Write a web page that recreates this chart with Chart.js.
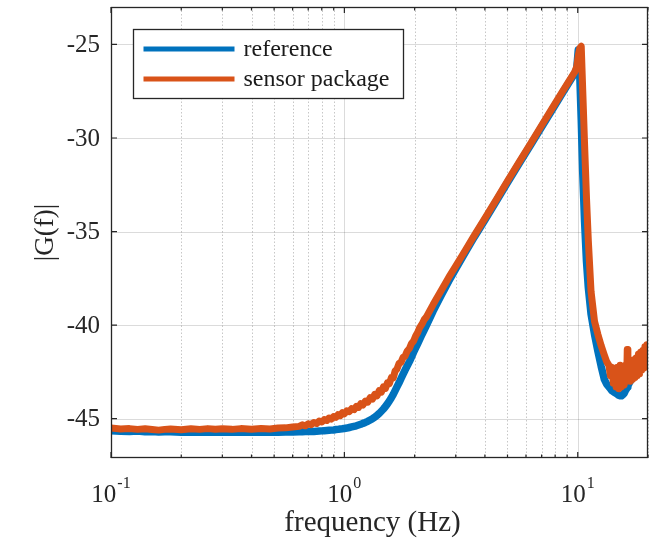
<!DOCTYPE html>
<html>
<head>
<meta charset="utf-8">
<style>
  html, body { margin: 0; padding: 0; background: #ffffff; }
  canvas { display: block; }
</style>
<script src="https://cdn.jsdelivr.net/npm/chart.js@4.4.1/dist/chart.umd.min.js"></script>
</head>
<body>
<canvas id="c" width="657" height="538"></canvas>
<script>
// ---- data ----
const freq = [
  0.10,0.11,0.12,0.13,0.14,0.15,0.16,0.17,0.18,0.20,
  0.22,0.24,0.26,0.28,0.30,0.33,0.36,0.40,0.44,0.48,
  0.52,0.56,0.60,
  0.64,0.66,0.68,0.70,0.72,0.74,0.76,0.78,0.80,0.82,
  0.84,0.86,0.88,0.90,0.92,0.94,0.96,0.98,1.00,1.025,
  1.05,1.075,1.10,1.125,1.15,1.175,1.20,1.23,1.26,1.29,
  1.32,1.35,1.38,1.41,1.44,1.47,1.50,1.53,1.56,1.59,
  1.62,1.65,1.68,1.715,1.75,1.785,1.82,1.86,1.90,1.94,
  1.98,2.02,2.06,2.10,2.15,2.20,2.25,
  2.40,2.60,2.80,3.00,3.30,3.60,4.00,4.50,
  5.00,5.60,6.30,7.00,7.80,8.60,9.30,9.70,9.90,10.05,
  10.20,10.35,10.50,10.70,10.90,11.10,11.40,11.80,12.20,12.60,
  13.00,13.30,13.60,13.80,14.00,14.20,14.40,14.60,14.80,15.00,
  15.20,15.40,15.60,15.80,16.00,16.20,16.30,16.40,16.60,16.80,
  17.00,17.20,17.40,17.60,17.80,18.00,18.20,18.40,18.60,18.80,
  19.00,19.20,19.40,19.60,19.80,20.00
];
const reference = [
  -45.64,-45.67,-45.68,-45.66,-45.70,-45.69,-45.71,-45.70,-45.70,-45.72,
  -45.71,-45.72,-45.71,-45.72,-45.71,-45.73,-45.72,-45.73,-45.72,-45.72,
  -45.72,-45.71,-45.71,
  -45.70,-45.70,-45.69,-45.69,-45.68,-45.68,-45.67,-45.66,-45.65,-45.64,
  -45.63,-45.62,-45.61,-45.60,-45.58,-45.57,-45.55,-45.54,-45.52,-45.50,
  -45.47,-45.44,-45.41,-45.38,-45.34,-45.30,-45.25,-45.20,-45.14,-45.07,
  -45.00,-44.92,-44.82,-44.72,-44.60,-44.48,-44.35,-44.20,-44.05,-43.88,
  -43.70,-43.50,-43.30,-43.08,-42.85,-42.62,-42.40,-42.17,-41.95,-41.70,
  -41.45,-41.22,-41.00,-40.78,-40.50,-40.25,-40.00,
  -39.25,-38.40,-37.65,-37.00,-36.10,-35.30,-34.38,-33.33,
  -32.38,-31.38,-30.35,-29.41,-28.46,-27.60,-26.92,-26.55,-26.30,-25.30,
  -26.60,-29.00,-31.80,-34.50,-36.60,-38.00,-39.40,-40.50,-41.40,-42.20,
  -42.90,-43.15,-43.30,-43.40,-43.50,-43.55,-43.60,-43.65,-43.70,-43.75,
  -43.78,-43.78,-43.72,-43.65,-43.50,-43.40,-43.30,-43.25,-43.10,-43.00,
  -42.85,-42.75,-42.60,-42.50,-42.40,-42.30,-42.20,-42.10,-42.00,-41.95,
  -41.85,-41.80,-41.70,-41.65,-41.55,-41.50
];
const sensorPackage = [
  -45.50,-45.55,-45.53,-45.57,-45.54,-45.58,-45.61,-45.57,-45.55,-45.59,
  -45.54,-45.57,-45.53,-45.56,-45.54,-45.57,-45.53,-45.56,-45.52,-45.55,
  -45.50,-45.49,-45.44,
  -45.41,-45.33,-45.38,-45.27,-45.32,-45.20,-45.26,-45.13,-45.18,-45.05,
  -45.10,-44.96,-45.02,-44.88,-44.93,-44.78,-44.84,-44.68,-44.74,-44.58,
  -44.62,-44.46,-44.52,-44.34,-44.40,-44.20,-44.27,-44.06,-44.12,-43.88,
  -43.95,-43.70,-43.78,-43.50,-43.58,-43.30,-43.38,-43.08,-43.12,-42.80,
  -42.82,-42.45,-42.35,-42.05,-41.98,-41.72,-41.66,-41.38,-41.25,-40.98,
  -40.85,-40.58,-40.40,-40.15,-39.95,-39.70,-39.55,
  -38.90,-38.15,-37.45,-36.85,-36.00,-35.22,-34.30,-33.25,
  -32.30,-31.30,-30.27,-29.33,-28.38,-27.52,-26.84,-26.48,-26.20,-25.60,
  -25.20,-25.10,-27.40,-30.40,-33.20,-35.50,-38.20,-39.80,-40.50,-41.10,
  -41.60,-41.95,-42.15,-42.70,-42.25,-43.10,-42.35,-43.30,-42.25,-43.40,
  -42.15,-43.30,-42.25,-43.20,-42.15,-43.00,-41.30,-42.90,-42.05,-43.00,
  -41.95,-42.90,-41.85,-42.80,-41.75,-42.70,-41.55,-42.60,-41.45,-42.40,
  -41.35,-42.30,-41.15,-42.10,-41.05,-41.70
];
const seriesLabels = ['reference', 'sensor package'];
const yTicks = [-45, -40, -35, -30, -25];
const xGridTicks = [0.1,0.2,0.3,0.4,0.5,0.6,0.7,0.8,0.9,1,2,3,4,5,6,7,8,9,10,20];
const xLabelTicks = [0.1, 1, 10];
const xLabelExponents = ['-1', '0', '1'];
const xTitle = 'frequency (Hz)';
const yTitle = '|G(f)|';

// ---- styling ----
const FONT = '"Liberation Serif", "Times New Roman", serif';
const TXT = '#262626';
const BLUE = '#0072BD';
const ORANGE = '#D95319';

const framePlugin = {
  id: 'frame',
  beforeDraw(chart) {
    const c = chart.ctx;
    c.save();
    c.fillStyle = '#ffffff';
    c.fillRect(0, 0, chart.width, chart.height);
    c.restore();
  },
  beforeDatasetsDraw(chart) {
    const { ctx, chartArea: a, scales: { x, y } } = chart;
    ctx.save();
    ctx.lineWidth = 1;
    xGridTicks.forEach(v => {
      const px = Math.round(x.getPixelForValue(v)) + 0.5;
      const major = xLabelTicks.includes(v);
      ctx.strokeStyle = major ? 'rgba(0,0,0,0.14)' : 'rgba(0,0,0,0.22)';
      ctx.setLineDash(major ? [] : [1.5, 2]);
      ctx.beginPath(); ctx.moveTo(px, a.top); ctx.lineTo(px, a.bottom); ctx.stroke();
    });
    ctx.setLineDash([]);
    ctx.strokeStyle = 'rgba(0,0,0,0.14)';
    yTicks.forEach(v => {
      const py = Math.round(y.getPixelForValue(v)) + 0.5;
      ctx.beginPath(); ctx.moveTo(a.left, py); ctx.lineTo(a.right, py); ctx.stroke();
    });
    ctx.restore();
  },
  afterDatasetsDraw(chart) {
    const { ctx, chartArea: a, scales: { x, y } } = chart;
    ctx.save();
    // box
    ctx.strokeStyle = TXT;
    ctx.lineWidth = 1.3;
    ctx.strokeRect(a.left + 0.5, a.top + 0.5, a.right - a.left - 1, a.bottom - a.top - 1);
    // inward ticks
    ctx.lineWidth = 1.2;
    ctx.beginPath();
    yTicks.forEach(v => {
      const py = y.getPixelForValue(v);
      ctx.moveTo(a.left, py); ctx.lineTo(a.left + 6, py);
      ctx.moveTo(a.right, py); ctx.lineTo(a.right - 6, py);
    });
    xGridTicks.forEach(v => {
      const px = x.getPixelForValue(v);
      const len = xLabelTicks.includes(v) ? 6 : 3.5;
      ctx.moveTo(px, a.bottom); ctx.lineTo(px, a.bottom - len);
      ctx.moveTo(px, a.top); ctx.lineTo(px, a.top + len);
    });
    ctx.stroke();

    // y tick labels
    ctx.fillStyle = TXT;
    ctx.font = '25px ' + FONT;
    ctx.textAlign = 'right';
    ctx.textBaseline = 'middle';
    yTicks.forEach(v => {
      ctx.fillText(String(v), a.left - 11, y.getPixelForValue(v) + 1);
    });

    // x tick labels with superscript exponent
    ctx.textBaseline = 'alphabetic';
    ctx.textAlign = 'left';
    xLabelTicks.forEach((v, i) => {
      const px = x.getPixelForValue(v);
      ctx.font = '25px ' + FONT;
      const w1 = ctx.measureText('10').width;
      ctx.font = '16px ' + FONT;
      const w2 = ctx.measureText(xLabelExponents[i]).width;
      const start = px - (w1 + w2 + 1) / 2;
      ctx.font = '25px ' + FONT;
      ctx.fillText('10', start, a.bottom + 43.5);
      ctx.font = '16px ' + FONT;
      ctx.fillText(xLabelExponents[i], start + w1 + 1, a.bottom + 30);
    });

    // x title
    ctx.font = '29px ' + FONT;
    ctx.textAlign = 'center';
    ctx.fillText(xTitle, (a.left + a.right) / 2 - 7, a.bottom + 73);

    // y title
    ctx.save();
    ctx.translate(46, (a.top + a.bottom) / 2);
    ctx.rotate(-Math.PI / 2);
    ctx.font = '27px ' + FONT;
    ctx.textAlign = 'center';
    ctx.textBaseline = 'middle';
    ctx.fillText(yTitle, 0, 0);
    ctx.restore();

    // legend
    const lx = a.left + 22.5, ly = a.top + 22.5, lw = 270, lh = 69;
    ctx.fillStyle = '#ffffff';
    ctx.fillRect(lx, ly, lw, lh);
    ctx.strokeStyle = TXT;
    ctx.lineWidth = 1.3;
    ctx.strokeRect(lx, ly, lw, lh);
    ctx.font = '24px ' + FONT;
    ctx.textAlign = 'left';
    ctx.textBaseline = 'middle';
    chart.data.datasets.forEach((ds, i) => {
      const yy = ly + 19.5 + i * 30;
      ctx.strokeStyle = ds.borderColor;
      ctx.lineWidth = 5;
      ctx.beginPath(); ctx.moveTo(lx + 10, yy); ctx.lineTo(lx + 101, yy); ctx.stroke();
      ctx.fillStyle = '#1a1a1a';
      ctx.fillText(ds.label, lx + 110, yy + 1);
    });
    ctx.restore();
  }
};

const toPoints = vals => freq.map((f, i) => ({ x: f, y: vals[i] }));

new Chart(document.getElementById('c').getContext('2d'), {
  type: 'line',
  data: {
    datasets: [
      { label: seriesLabels[0], data: toPoints(reference), borderColor: BLUE, backgroundColor: BLUE,
        borderWidth: 7.5, pointRadius: 0, tension: 0, fill: false, order: 2, clip: 0,
        borderJoinStyle: 'round', borderCapStyle: 'butt' },
      { label: seriesLabels[1], data: toPoints(sensorPackage), borderColor: ORANGE, backgroundColor: ORANGE,
        borderWidth: 7, pointRadius: 0, tension: 0, fill: false, order: 1, clip: 0,
        borderJoinStyle: 'round', borderCapStyle: 'butt' }
    ]
  },
  options: {
    responsive: false,
    animation: false,
    devicePixelRatio: 1,
    layout: { padding: { top: 7, right: 9, left: 0, bottom: 0 } },
    plugins: { legend: { display: false }, tooltip: { enabled: false } },
    scales: {
      x: {
        type: 'logarithmic', min: 0.1, max: 20,
        ticks: { display: false },
        grid: { display: false },
        border: { display: false },
        afterBuildTicks: s => { s.ticks = xGridTicks.map(v => ({ value: v })); },
        afterFit: s => { s.height = 80; }
      },
      y: {
        type: 'linear', min: -47.1, max: -23,
        ticks: { display: false },
        grid: { display: false },
        border: { display: false },
        afterBuildTicks: s => { s.ticks = yTicks.map(v => ({ value: v })); },
        afterFit: s => { s.width = 111; }
      }
    }
  },
  plugins: [framePlugin]
});
</script>
</body>
</html>
